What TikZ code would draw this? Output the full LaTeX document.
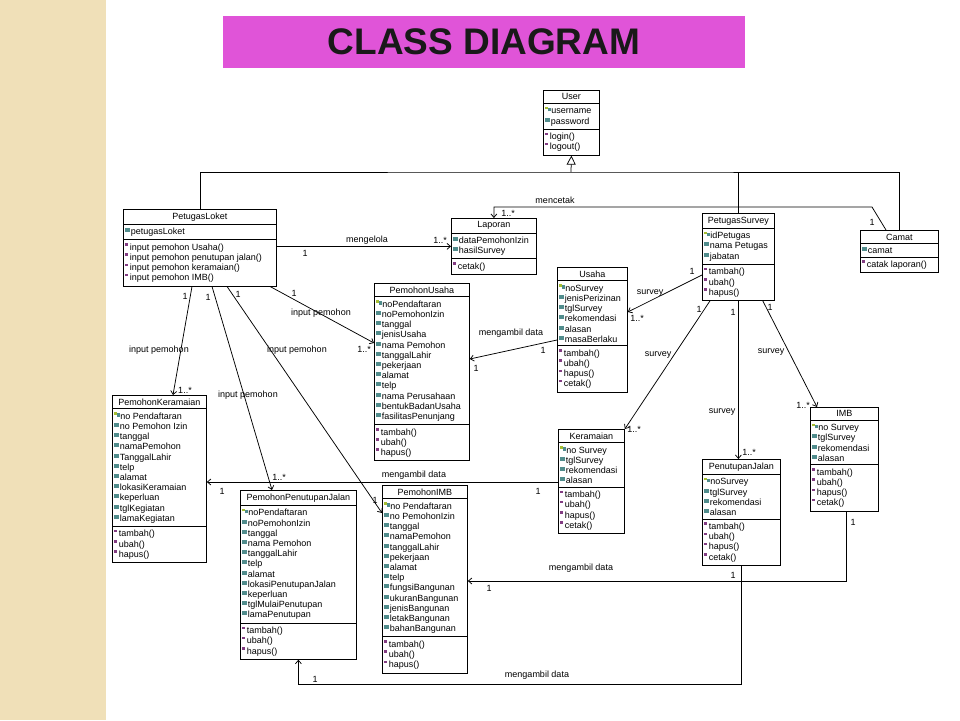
\documentclass[tikz,border=0pt]{standalone}
\usepackage{fontspec}
\setsansfont{Liberation Sans}
\usepackage{xcolor}
\usepackage{tikz}
\usetikzlibrary{shapes.multipart, arrows.meta, positioning}
\definecolor{titlepink}{RGB}{224, 84, 216}
\definecolor{stripbeige}{RGB}{240, 224, 184}
\definecolor{attrteal}{RGB}{80, 140, 140}
\definecolor{keygreen}{RGB}{165, 190, 50}
\definecolor{oppurple}{RGB}{130, 60, 130}
\newcommand{\iconkey}{{\color{keygreen}\rule[4.5pt]{2.5pt}{2.5pt}}{\color{attrteal}\rule[2.5pt]{3pt}{3.5pt}}\hspace{0.5pt}}
\newcommand{\iconattr}{{\color{attrteal}\rule[2.5pt]{5pt}{4pt}}\hspace{0.5pt}}
\newcommand{\iconop}{{\color{oppurple}\rule[4.5pt]{3pt}{2.5pt}}\hspace{1.5pt}}

\begin{document}
\begin{tikzpicture}[
    x=1pt, y=-1pt,
    font=\sffamily\fontsize{9}{10.2}\selectfont,
    cls/.style={draw, line width=0.8pt, fill=white, anchor=north west, rectangle split, rectangle split parts=3,
        rectangle split part align={center,left,left}, align=left, inner xsep=2pt, inner ysep=3pt},
    assoc/.style={line width=0.75pt, -{Straight Barb[length=3.5pt, width=6pt]}},
    link/.style={line width=0.75pt},
    lbl/.style={inner sep=0pt}
]
    \useasboundingbox (0,0) rectangle (960,720);
    \fill[white] (0,0) rectangle (960,720);
    \fill[stripbeige] (0,0) rectangle (106,720);
    \node[fill=titlepink, minimum width=522, minimum height=52, text=black!90,
        font=\sffamily\bfseries\fontsize{37}{40}\selectfont] (title) at (484,42) {CLASS DIAGRAM};

    % classes
    \node[cls, minimum width=56] (user) at (543,90) {User
        \nodepart{two} \iconkey username\\ \iconattr password
        \nodepart{three} \iconop login()\\ \iconop logout()};
    \node[cls, minimum width=153] (ploket) at (123,209) {PetugasLoket
        \nodepart{two} \iconattr petugasLoket
        \nodepart{three} \iconop input pemohon Usaha()\\ \iconop input pemohon penutupan jalan()\\
        \iconop input pemohon keramaian()\\ \iconop input pemohon IMB()};
    \node[cls, minimum width=85] (laporan) at (451,218) {Laporan
        \nodepart{two} \iconattr dataPemohonIzin\\ \iconattr hasilSurvey
        \nodepart{three} \iconop cetak()};
    \node[cls, minimum width=72] (psurvey) at (702,213) {PetugasSurvey
        \nodepart{two} \iconkey idPetugas\\ \iconattr nama Petugas\\ \iconattr jabatan
        \nodepart{three} \iconop tambah()\\ \iconop ubah()\\ \iconop hapus()};
    \node[cls, minimum width=78] (camat) at (860,230) {Camat
        \nodepart{two} \iconattr camat
        \nodepart{three} \iconop catak laporan()};
    \node[cls, minimum width=70] (usaha) at (557,267) {Usaha
        \nodepart{two} \iconkey noSurvey\\ \iconattr jenisPerizinan\\ \iconattr tglSurvey\\
        \iconattr rekomendasi\\ \iconattr alasan\\ \iconattr masaBerlaku
        \nodepart{three} \iconop tambah()\\ \iconop ubah()\\ \iconop hapus()\\ \iconop cetak()};
    \node[cls, minimum width=95] (pusaha) at (374,283) {PemohonUsaha
        \nodepart{two} \iconkey noPendaftaran\\ \iconattr noPemohonIzin\\ \iconattr tanggal\\
        \iconattr jenisUsaha\\ \iconattr nama Pemohon\\ \iconattr tanggalLahir\\ \iconattr pekerjaan\\
        \iconattr alamat\\ \iconattr telp\\ \iconattr nama Perusahaan\\ \iconattr bentukBadanUsaha\\
        \iconattr fasilitasPenunjang
        \nodepart{three} \iconop tambah()\\ \iconop ubah()\\ \iconop hapus()};
    \node[cls, minimum width=66] (keramaian) at (558,429) {Keramaian
        \nodepart{two} \iconkey no Survey\\ \iconattr tglSurvey\\ \iconattr rekomendasi\\ \iconattr alasan
        \nodepart{three} \iconop tambah()\\ \iconop ubah()\\ \iconop hapus()\\ \iconop cetak()};
    \node[cls, minimum width=78] (pjalan) at (702,459) {PenutupanJalan
        \nodepart{two} \iconkey noSurvey\\ \iconattr tglSurvey\\ \iconattr rekomendasi\\ \iconattr alasan
        \nodepart{three} \iconop tambah()\\ \iconop ubah()\\ \iconop hapus()\\ \iconop cetak()};
    \node[cls, minimum width=68] (imb) at (810,407) {IMB
        \nodepart{two} \iconkey no Survey\\ \iconattr tglSurvey\\ \iconattr rekomendasi\\ \iconattr alasan
        \nodepart{three} \iconop tambah()\\ \iconop ubah()\\ \iconop hapus()\\ \iconop cetak()};
    \node[cls, minimum width=94] (pkeramaian) at (112,395) {PemohonKeramaian
        \nodepart{two} \iconkey no Pendaftaran\\ \iconattr no Pemohon Izin\\ \iconattr tanggal\\
        \iconattr namaPemohon\\ \iconattr TanggalLahir\\ \iconattr telp\\ \iconattr alamat\\
        \iconattr lokasiKeramaian\\ \iconattr keperluan\\ \iconattr tglKegiatan\\ \iconattr lamaKegiatan
        \nodepart{three} \iconop tambah()\\ \iconop ubah()\\ \iconop hapus()};
    \node[cls, minimum width=116] (ppjalan) at (240,490) {PemohonPenutupanJalan
        \nodepart{two} \iconkey noPendaftaran\\ \iconattr noPemohonIzin\\ \iconattr tanggal\\
        \iconattr nama Pemohon\\ \iconattr tanggalLahir\\ \iconattr telp\\ \iconattr alamat\\
        \iconattr lokasiPenutupanJalan\\ \iconattr keperluan\\ \iconattr tglMulaiPenutupan\\ \iconattr lamaPenutupan
        \nodepart{three} \iconop tambah()\\ \iconop ubah()\\ \iconop hapus()};
    \node[cls, minimum width=85] (pimb) at (382,485) {PemohonIMB
        \nodepart{two} \iconkey no Pendaftaran\\ \iconattr no PemohonIzin\\ \iconattr tanggal\\
        \iconattr namaPemohon\\ \iconattr tanggalLahir\\ \iconattr pekerjaan\\ \iconattr alamat\\
        \iconattr telp\\ \iconattr fungsiBangunan\\ \iconattr ukuranBangunan\\ \iconattr jenisBangunan\\
        \iconattr letakBangunan\\ \iconattr bahanBangunan
        \nodepart{three} \iconop tambah()\\ \iconop ubah()\\ \iconop hapus()};

    % generalization to User
    \coordinate (genbus) at (571,172);
    \draw[link] (ploket.north) |- (genbus) -| (camat.north);
    \draw[link] (psurvey.north) -- (psurvey.north |- genbus);
    \draw[link, -{Triangle[open, length=9pt, width=9pt]}] (genbus) -- (user.south);

    % associations
    \coordinate (cetakbend) at (872,207);
    \draw[assoc] ([xshift=26pt]camat.north west) -- (cetakbend) -| (laporan.north);
    \draw[assoc] (ploket.east |- laporan.west) -- (laporan.west);
    \draw[assoc] ([xshift=69pt]ploket.south west) -- ([xshift=61pt]pkeramaian.north west);
    \draw[assoc] ([xshift=89pt]ploket.south west) -- ([xshift=32pt]ppjalan.north west);
    \draw[assoc] ([xshift=104pt]ploket.south west) -- ([yshift=-28pt]pimb.north west);
    \draw[assoc] ([xshift=147pt]ploket.south west) -- ([yshift=-60pt]pusaha.north west);
    \draw[assoc] ([yshift=-73pt]usaha.north west) -- ([yshift=-76pt]pusaha.north east);
    \draw[assoc] ([yshift=-62pt]psurvey.north west) -- ([yshift=-45pt]usaha.north east);
    \draw[assoc] ([xshift=8pt]psurvey.south west) -- (keramaian.north east);
    \draw[assoc] (psurvey.south) -- (psurvey.south |- pjalan.north);
    \draw[assoc] ([xshift=-12pt]psurvey.south east) -- ([xshift=7pt]imb.north west);
    \coordinate (kerout) at ([yshift=-53pt]keramaian.north west);
    \draw[assoc] (kerout) -- (pkeramaian.east |- kerout);
    \coordinate (imbturn) at (846,581);
    \draw[assoc] (imbturn |- imb.south) -- (imbturn) -- (pimb.east |- imbturn);
    \coordinate (jalanturn) at (741,684);
    \draw[assoc] (pjalan.south) |- (ppjalan.south |- jalanturn) -- (ppjalan.south);

    \foreach \x/\y/\t [count=\i] in {367/240/mengelola, 555/200/mencetak, 159/350/input pemohon,
        248/395/input pemohon, 297/350/input pemohon, 321/313/input pemohon, 511/333/mengambil data,
        650/293/survey, 658/355/survey, 722/412/survey, 771/352/survey, 414/475/mengambil data,
        581/568/mengambil data, 537/675/mengambil data}
        \node[lbl] (role\i) at (\x,\y) {\t};
    \foreach \x/\y/\t [count=\i] in {305/253/1, 440/240/1..*, 508/213/1..*, 872/222/1, 185/296/1,
        185/390/1..*, 208/297/1, 279/477/1..*, 238/294/1, 375/500/1, 294/293/1, 364/349/1..*,
        543/350/1, 476/368/1, 692/271/1, 637/318/1..*, 699/309/1, 634/429/1..*, 733/312/1,
        749/452/1..*, 770/307/1, 803/405/1..*, 538/491/1, 222/491/1, 489/588/1, 853/522/1,
        315/679/1, 733/575/1}
        \node[lbl] (mult\i) at (\x,\y) {\t};
\end{tikzpicture}
\end{document}
